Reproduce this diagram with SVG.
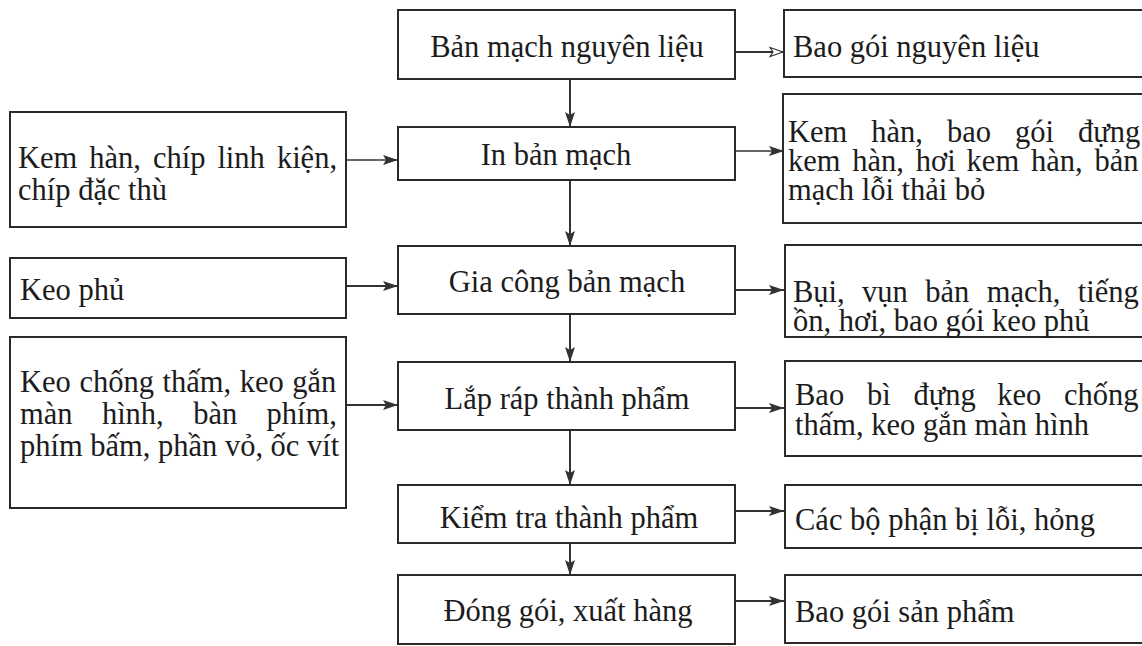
<svg xmlns="http://www.w3.org/2000/svg" width="1142" height="646" viewBox="0 0 1142 646">
  <style>
    .box { fill: #ffffff; stroke: #2a2a2a; stroke-width: 2; }
    .t { font-family: "Liberation Serif", "Times New Roman", serif; font-size: 30.5px; fill: #1c1c1c; }
    .c { text-anchor: middle; }
    .ln { stroke: #333333; stroke-width: 2; fill: none; }
    .thin { stroke: #333333; stroke-width: 1.3; fill: none; }
  </style>
  <defs>
    <marker id="solid" markerUnits="userSpaceOnUse" markerWidth="16" markerHeight="12" refX="15" refY="6" orient="auto">
      <path d="M0,1 L15,6 L0,11 L3,6 Z" fill="#333333"/>
    </marker>
    <marker id="open" markerUnits="userSpaceOnUse" markerWidth="16" markerHeight="12" refX="15" refY="6" orient="auto">
      <path d="M1,1.5 L14,6 L1,10.5 L4,6 Z" fill="#ffffff" stroke="#333333" stroke-width="1.2"/>
    </marker>
  </defs>
  <rect width="1142" height="646" fill="#ffffff"/>

  <!-- connectors -->
  <g id="connectors">
    <!-- main flow -->
    <line class="ln" x1="570" y1="79" x2="570" y2="127" marker-end="url(#solid)"/>
    <line class="ln" x1="570" y1="180" x2="570" y2="246" marker-end="url(#solid)"/>
    <line class="ln" x1="570" y1="314" x2="570" y2="362" marker-end="url(#solid)"/>
    <line class="ln" x1="570" y1="430" x2="570" y2="485" marker-end="url(#solid)"/>
    <line class="ln" x1="570" y1="543" x2="570" y2="575" marker-end="url(#solid)"/>
    <!-- inputs -->
    <line class="thin" x1="346" y1="160" x2="398" y2="160" marker-end="url(#solid)"/>
    <line class="ln" x1="346" y1="286" x2="398" y2="286" marker-end="url(#solid)"/>
    <line class="ln" x1="346" y1="405" x2="398" y2="405" marker-end="url(#solid)"/>
    <!-- outputs -->
    <line class="ln" x1="735" y1="52" x2="784" y2="52" marker-end="url(#open)"/>
    <line class="thin" x1="735" y1="151" x2="784" y2="151" marker-end="url(#solid)"/>
    <line class="ln" x1="735" y1="290" x2="784" y2="290" marker-end="url(#solid)"/>
    <line class="ln" x1="735" y1="408" x2="784" y2="408" marker-end="url(#solid)"/>
    <line class="ln" x1="735" y1="511" x2="784" y2="511" marker-end="url(#solid)"/>
    <line class="ln" x1="735" y1="601" x2="784" y2="601" marker-end="url(#solid)"/>
  </g>

  <!-- process steps -->
  <g id="step-raw">
    <rect class="box" x="398" y="10" width="337" height="69"/>
    <text class="t c" x="567" y="57">Bản mạch nguyên liệu</text>
  </g>
  <g id="step-print">
    <rect class="box" x="398" y="127" width="337" height="53"/>
    <text class="t c" x="556" y="165">In bản mạch</text>
  </g>
  <g id="step-machining">
    <rect class="box" x="398" y="246" width="337" height="68"/>
    <text class="t c" x="567" y="292">Gia công bản mạch</text>
  </g>
  <g id="step-assembly">
    <rect class="box" x="398" y="362" width="337" height="68"/>
    <text class="t c" x="567" y="409">Lắp ráp thành phẩm</text>
  </g>
  <g id="step-check">
    <rect class="box" x="398" y="485" width="337" height="58"/>
    <text class="t c" x="569" y="528">Kiểm tra thành phẩm</text>
  </g>
  <g id="step-pack">
    <rect class="box" x="398" y="575" width="337" height="69"/>
    <text class="t c" x="568" y="621">Đóng gói, xuất hàng</text>
  </g>

  <!-- inputs (justified lines are set word by word) -->
  <g id="in-print">
    <rect class="box" x="10" y="112" width="336" height="115"/>
    <text class="t" y="168"><tspan x="18">Kem</tspan><tspan x="89.3">hàn,</tspan><tspan x="152.9">chíp</tspan><tspan x="217.4">linh</tspan><tspan x="276.9">kiện,</tspan></text>
    <text class="t" x="18" y="200">chíp đặc thù</text>
  </g>
  <g id="in-machining">
    <rect class="box" x="10" y="258" width="336" height="60"/>
    <text class="t" x="20" y="300">Keo phủ</text>
  </g>
  <g id="in-assembly">
    <rect class="box" x="10" y="337" width="336" height="171"/>
    <text class="t" y="392"><tspan x="20">Keo</tspan><tspan x="79.4">chống</tspan><tspan x="162.5">thấm,</tspan><tspan x="239.7">keo</tspan><tspan x="292.3">gắn</tspan></text>
    <text class="t" y="424"><tspan x="20">màn</tspan><tspan x="101.9">hình,</tspan><tspan x="193.2">bàn</tspan><tspan x="266.6">phím,</tspan></text>
    <text class="t" y="456"><tspan x="20">phím</tspan><tspan x="90.3">bấm,</tspan><tspan x="158">phần</tspan><tspan x="224.9">vỏ,</tspan><tspan x="270.6">ốc</tspan><tspan x="307">vít</tspan></text>
  </g>

  <!-- outputs -->
  <g id="out-raw">
    <rect class="box" x="784" y="10" width="362" height="67"/>
    <text class="t" x="793" y="57">Bao gói nguyên liệu</text>
  </g>
  <g id="out-print">
    <rect class="box" x="783" y="94" width="363" height="129"/>
    <text class="t" y="142"><tspan x="788">Kem</tspan><tspan x="871.3">hàn,</tspan><tspan x="947">bao</tspan><tspan x="1015">gói</tspan><tspan x="1078">đựng</tspan></text>
    <text class="t" y="171"><tspan x="788">kem</tspan><tspan x="852.3">hàn,</tspan><tspan x="915.8">hơi</tspan><tspan x="966.6">kem</tspan><tspan x="1030.9">hàn,</tspan><tspan x="1094.4">bản</tspan></text>
    <text class="t" x="788" y="200">mạch lỗi thải bỏ</text>
  </g>
  <g id="out-machining">
    <rect class="box" x="785" y="245" width="361" height="92"/>
    <text class="t" y="302"><tspan x="793">Bụi,</tspan><tspan x="862.1">vụn</tspan><tspan x="925.3">bản</tspan><tspan x="986.7">mạch,</tspan><tspan x="1077.8">tiếng</tspan></text>
    <text class="t" x="793" y="331">ồn, hơi, bao gói keo phủ</text>
  </g>
  <g id="out-assembly">
    <rect class="box" x="785" y="361" width="361" height="95"/>
    <text class="t" y="405"><tspan x="795">Bao</tspan><tspan x="866.9">bì</tspan><tspan x="913.4">đựng</tspan><tspan x="997.2">keo</tspan><tspan x="1064">chống</tspan></text>
    <text class="t" x="795" y="435">thấm, keo gắn màn hình</text>
  </g>
  <g id="out-check">
    <rect class="box" x="785" y="485" width="361" height="63"/>
    <text class="t" x="795" y="530">Các bộ phận bị lỗi, hỏng</text>
  </g>
  <g id="out-pack">
    <rect class="box" x="785" y="575" width="361" height="68"/>
    <text class="t" x="795" y="622">Bao gói sản phẩm</text>
  </g>
</svg>
